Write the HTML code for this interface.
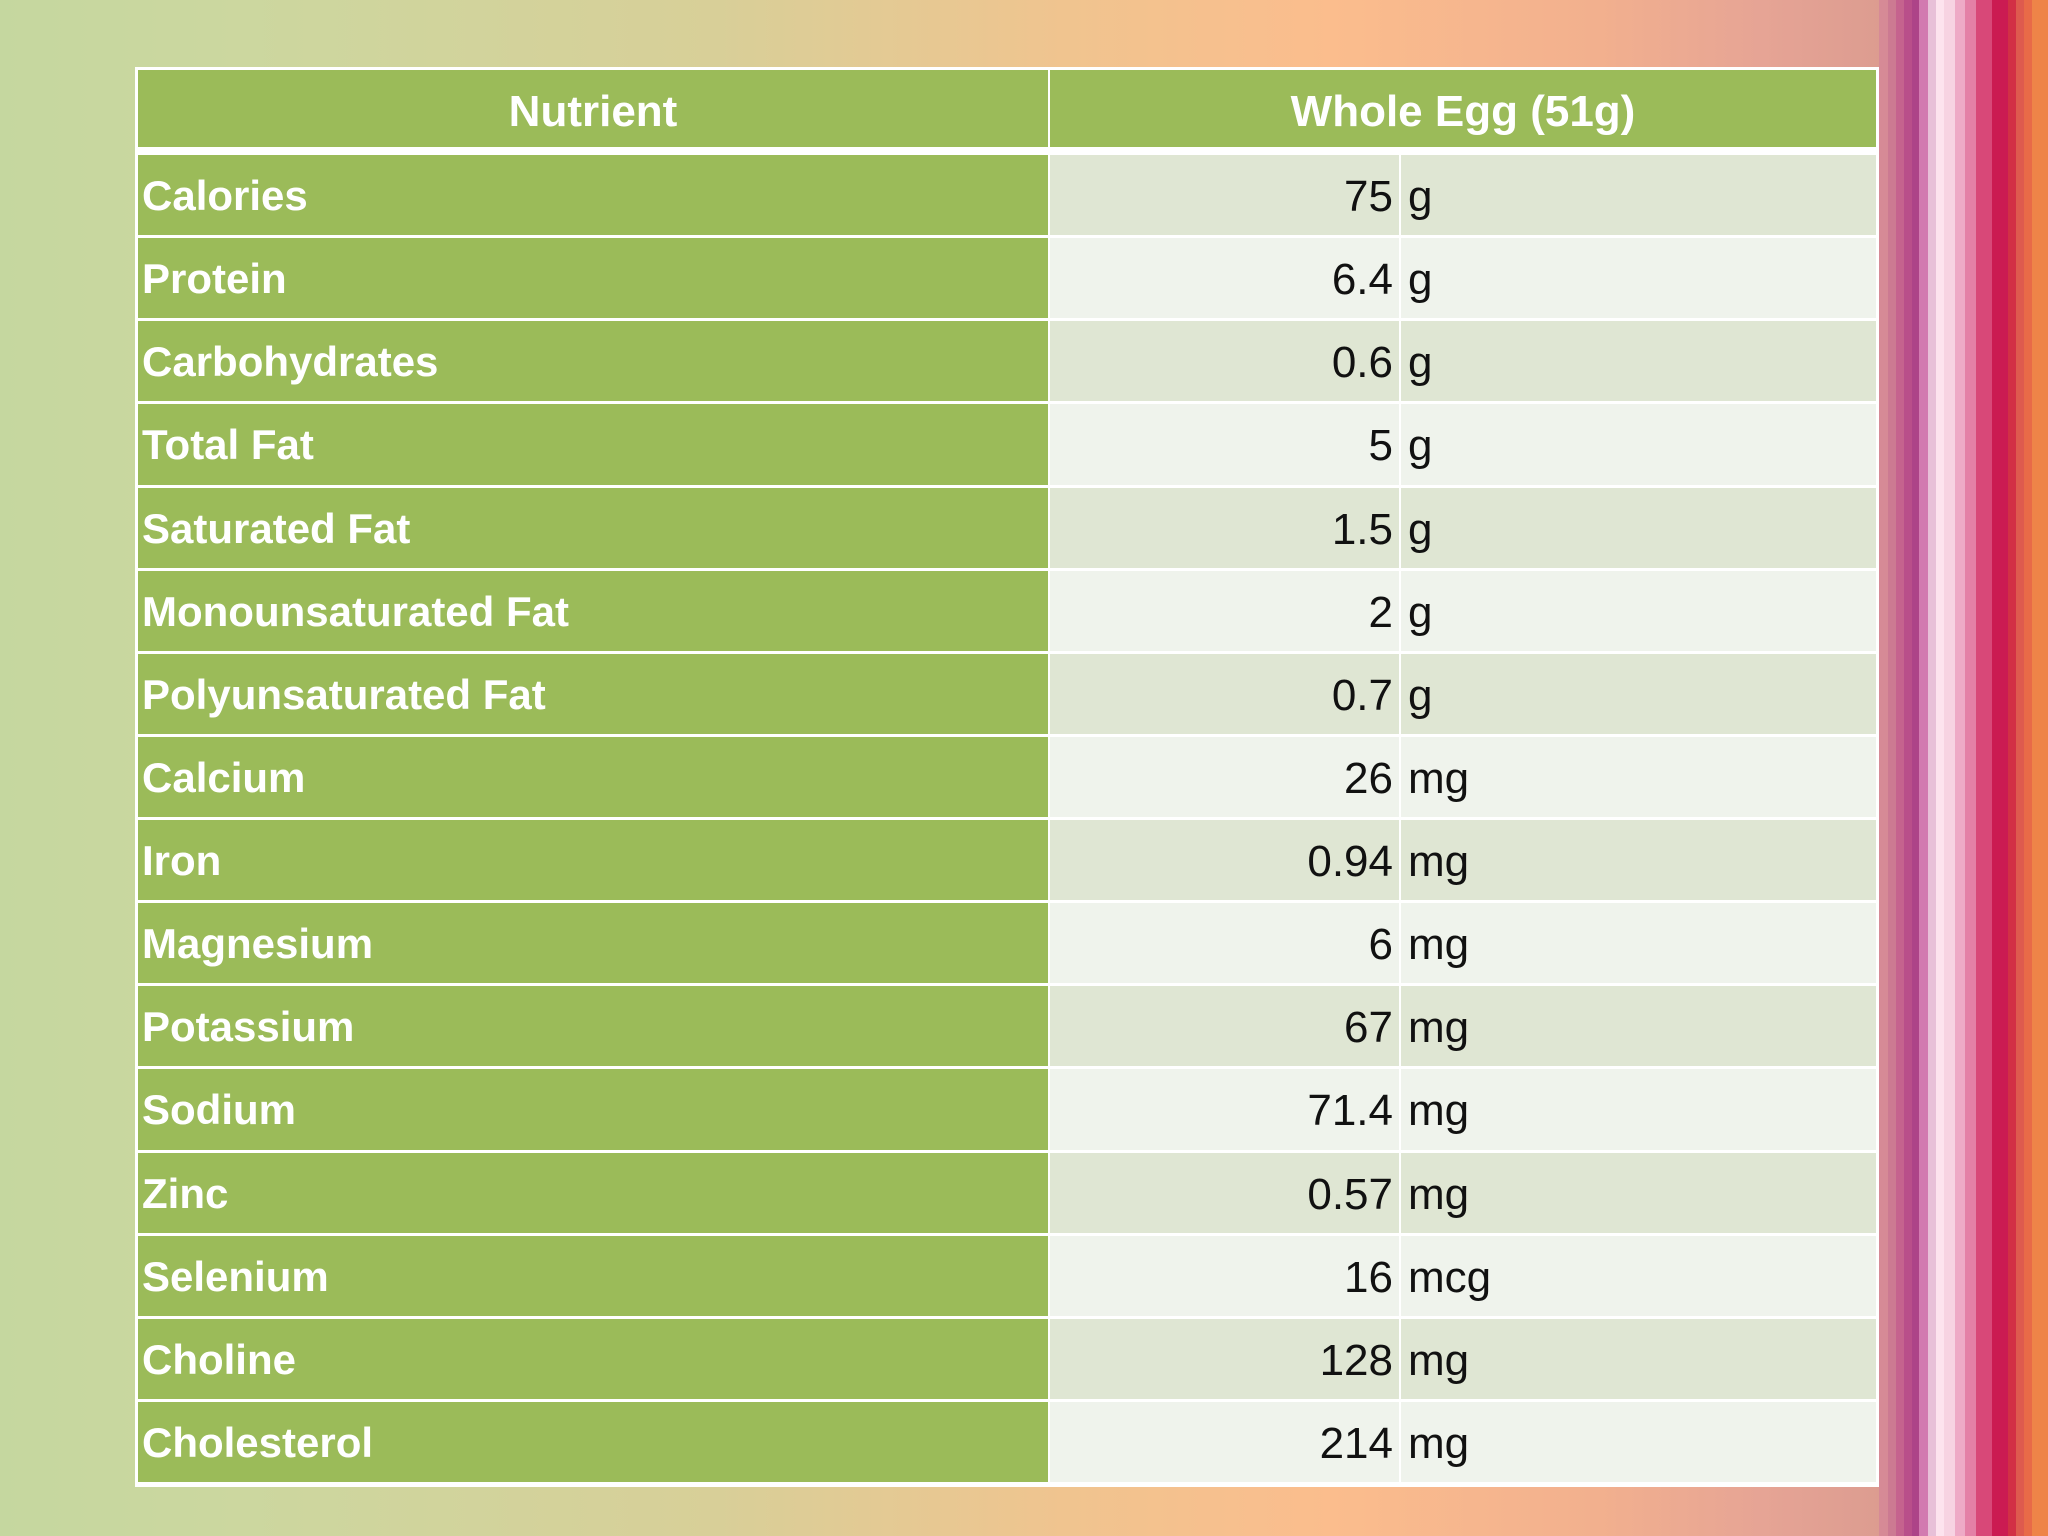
<!DOCTYPE html>
<html><head><meta charset="utf-8">
<style>
body{margin:0;width:2048px;height:1536px;overflow:hidden;position:relative;font-family:"Liberation Sans",sans-serif;}
#bg{position:absolute;left:0;top:0;width:2048px;height:1536px;background:linear-gradient(90deg,#c5d79f 0%,#ccd79f 12%,#d8cf98 35%,#f0c48f 52%,#fbbd8d 65%,#f2b08e 78%,#e6a495 86%,#dc9c90 92%);}
.s{position:absolute;top:0;height:1536px;}
.c{position:absolute;box-sizing:border-box;color:#fff;font-weight:bold;font-size:42px;line-height:1;display:flex;align-items:center;}
.h{font-size:44px;}
.v{color:#111;font-weight:normal;font-size:44px;}
</style></head><body>
<div id="bg"></div>
<div id="stripes"></div>
<div id="table" style="position:absolute;left:135px;top:67px;width:1744px;height:1420px;background:#fff;"></div>
<script>
const nutrients=["Calories","Protein","Carbohydrates","Total Fat","Saturated Fat","Monounsaturated Fat","Polyunsaturated Fat","Calcium","Iron","Magnesium","Potassium","Sodium","Zinc","Selenium","Choline","Cholesterol"];
const amounts=["75","6.4","0.6","5","1.5","2","0.7","26","0.94","6","67","71.4","0.57","16","128","214"];
const units=["g","g","g","g","g","g","g","mg","mg","mg","mg","mg","mg","mcg","mg","mg"];
const stripeCols=[[1879,"#d68a96"],[1888,"#cc7a92"],[1896,"#c5638e"],[1904,"#b94f8a"],[1912,"#ad4488"],[1919,"#d27ab0"],[1928,"#e8c0d8"],[1936,"#fde3ee"],[1944,"#f7d3e2"],[1955,"#eeaac6"],[1965,"#e480a6"],[1976,"#d84878"],[1992,"#cb1b52"],[2008,"#d23045"],[2016,"#de5a4e"],[2024,"#e86a48"],[2032,"#ee8448"],[2048,""]];
const sw=document.getElementById('stripes');
for(let i=0;i<stripeCols.length-1;i++){const d=document.createElement('div');d.className='s';d.style.left=stripeCols[i][0]+'px';d.style.width=(stripeCols[i+1][0]-stripeCols[i][0])+'px';d.style.background=stripeCols[i][1];


sw.appendChild(d);}
const T=document.getElementById('table');
const L=0,M=914,U=1265,R=1744;
function cell(x,y,w,h,bg,txt,cls,just,pad,name){const d=document.createElement('div');d.className='c '+(cls||'');d.style.left=x+'px';d.style.top=y+'px';d.style.width=w+'px';d.style.height=h+'px';d.style.background=bg;d.style.justifyContent=just;d.style.padding=pad;d.textContent=txt;


T.appendChild(d);return d;}
cell(3,3,M-4,77,"#9bbb59","Nutrient","h","center","6px 0 0 0","header-nutrient");
cell(M+1,3,R-M-4,77,"#9bbb59","Whole Egg (51g)","h","center","6px 0 0 0","header-whole-egg");
const top0=88,rh=(1418-88)/16;
nutrients.forEach((n,i)=>{const y=top0+i*rh;const h=rh-3;
cell(3,y,M-4,h,"#9bbb59",n,"","flex-start","2px 0 0 4px","nutrient-label");
const bg=i%2==0?"#dfe6d3":"#eff3ec";
cell(M+1,y,U-M-2,h,bg,amounts[i],"v","flex-end","4px 6px 0 0","amount-value");
cell(U+1,y,R-U-4,h,bg,units[i],"v","flex-start","4px 0 0 7px","unit-label");
});
</script>
</body></html>
